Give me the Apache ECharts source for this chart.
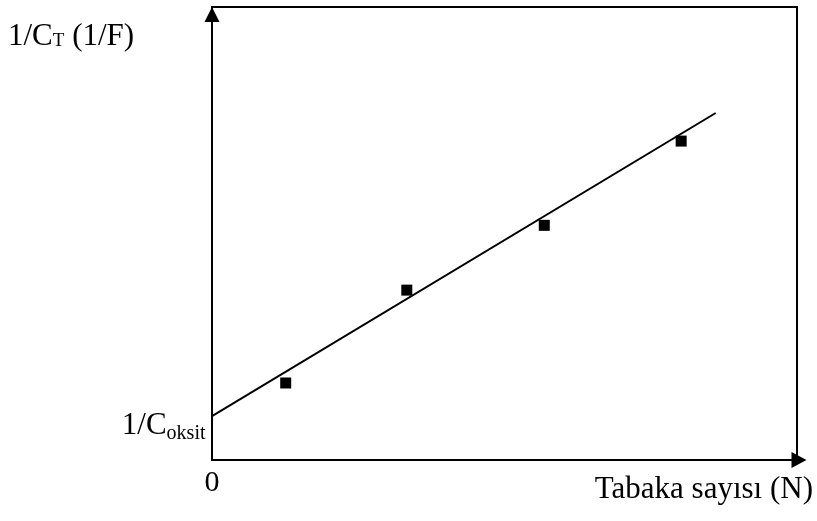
<!DOCTYPE html>
<html>
<head>
<meta charset="utf-8">
<script src="https://cdn.jsdelivr.net/npm/echarts@6/dist/echarts.min.js"></script>
<style>
  html, body { margin: 0; padding: 0; background: #fff; }
  #chart { width: 817px; height: 521px; }
</style>
</head>
<body>
<div id="chart"></div>
<script>
// Measured points: number of layers (arbitrary units) against 1/C_T
const layerX = [1.26, 3.33, 5.68, 8.02];
const inverseC = [1.70, 3.75, 5.18, 7.04];
// Straight-line fit, from its intercept (1/C_oksit) to its far end
const fitX = [0, 8.61];
const fitY = [0.97, 7.66];
// The only tick label on the N axis
const xTickLabels = ['0'];

const serif = '"Liberation Serif", "Times New Roman", serif';

const chart = echarts.init(document.getElementById('chart'), null, { renderer: 'canvas' });

chart.setOption({
  animation: false,
  backgroundColor: '#fff',
  grid: {
    left: 212, top: 7, right: 20, bottom: 61,
    show: true, borderColor: '#000', borderWidth: 2, backgroundColor: 'transparent'
  },
  xAxis: {
    type: 'value', min: 0, max: 10, interval: 10,
    axisLine: {
      show: true, onZero: false,
      symbol: ['none', 'triangle'], symbolSize: [16, 15], symbolOffset: [0, 2],
      lineStyle: { color: '#000', width: 2 }
    },
    axisTick: { show: false },
    splitLine: { show: false },
    axisLabel: {
      show: true, margin: 8, color: '#000',
      fontFamily: serif, fontSize: 30,
      formatter: v => (v === 0 ? xTickLabels[0] : '')
    }
  },
  yAxis: {
    type: 'value', min: 0, max: 10,
    axisLine: {
      show: true, onZero: false,
      symbol: ['none', 'triangle'], symbolSize: [15, 15], symbolOffset: [0, -7.5],
      lineStyle: { color: '#000', width: 2 }
    },
    axisTick: { show: false },
    splitLine: { show: false },
    axisLabel: { show: false }
  },
  graphic: [
    {
      type: 'text', left: 8, top: 21,
      style: {
        text: '{a|1/C}{s|T}{a| (1/F)}',
        rich: {
          a: { fontFamily: serif, fontSize: 31, fill: '#000' },
          s: { fontFamily: serif, fontSize: 19, fill: '#000', padding: [10, 0, 0, 0] }
        }
      }
    },
    {
      type: 'text', right: 4, top: 474,
      style: { text: 'Tabaka sayısı (N)', fontFamily: serif, fontSize: 31, fill: '#000' }
    }
  ],
  series: [
    {
      type: 'line',
      data: fitX.map((x, i) => [x, fitY[i]]),
      showSymbol: false,
      lineStyle: { color: '#000', width: 2 },
      markPoint: {
        symbol: 'circle', symbolSize: 1,
        itemStyle: { color: 'rgba(0,0,0,0)' },
        data: [{ coord: [fitX[0], fitY[0]] }],
        label: {
          show: true, position: 'left', distance: 6, offset: [0, 10],
          formatter: '{a|1/C}{s|oksit}',
          rich: {
            a: { fontFamily: serif, fontSize: 31, color: '#000' },
            s: { fontFamily: serif, fontSize: 20, color: '#000', padding: [16, 0, 0, 0] }
          }
        }
      }
    },
    {
      type: 'scatter',
      data: layerX.map((x, i) => [x, inverseC[i]]),
      symbol: 'rect', symbolSize: 11,
      itemStyle: { color: '#000', opacity: 1 }
    }
  ]
});
</script>
</body>
</html>
